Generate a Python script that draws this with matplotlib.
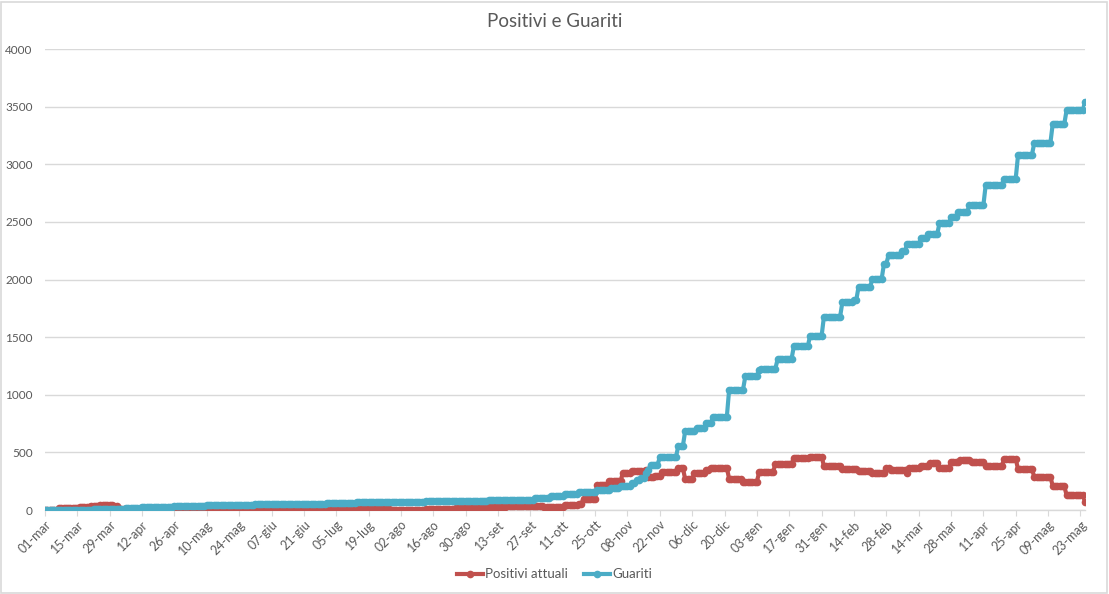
import matplotlib
matplotlib.use("Agg")
import matplotlib.pyplot as plt
import numpy as np
import pandas as pd
from matplotlib.patches import Rectangle

# ---------------- data ----------------
start_date = "2020-03-01"
end_date = "2021-05-25"

# tick labels (every 14 days from 01-mar)
tick_labels = ["01-mar", "15-mar", "29-mar", "12-apr", "26-apr", "10-mag", "24-mag",
               "07-giu", "21-giu", "05-lug", "19-lug", "02-ago", "16-ago", "30-ago",
               "13-set", "27-set", "11-ott", "25-ott", "08-nov", "22-nov", "06-dic",
               "20-dic", "03-gen", "17-gen", "31-gen", "14-feb", "28-feb", "14-mar",
               "28-mar", "11-apr", "25-apr", "09-mag", "23-mag"]

# Guariti: day offset (from start_date) at which the value changes, and new value
guariti_giorno = [0, 7, 14, 21, 28, 35, 42, 49, 56, 63, 70, 77, 84, 91, 98, 105, 112,
                  122, 135, 150, 165, 180, 192, 206, 212, 219, 225, 231, 239, 245, 249,
                  254, 256, 258, 260, 261, 262, 266, 274, 277, 282, 286, 289, 296, 303,
                  309, 310, 317, 324, 331, 337, 345, 350, 352, 358, 363, 365, 371, 373,
                  379, 382, 387, 392, 395, 400, 407, 415, 421, 428, 436, 442, 450]
guariti_valore = [0, 2, 4, 8, 12, 18, 24, 28, 32, 36, 40, 44, 46, 48, 50, 52, 54,
                  65, 68, 72, 76, 80, 84, 88, 107, 125, 139, 154, 174, 188, 212,
                  238, 260, 275, 320, 348, 391, 458, 557, 687, 710, 754, 806, 1043, 1159,
                  1212, 1226, 1310, 1420, 1507, 1675, 1803, 1820, 1936, 2006, 2136, 2212, 2246, 2307,
                  2362, 2391, 2487, 2545, 2588, 2643, 2817, 2875, 3078, 3183, 3348, 3467, 3542]

# Positivi attuali: day offset of change and new value
positivi_giorno = [0, 6, 10, 15, 20, 24, 30, 32, 45, 60, 75, 90, 110, 120, 122, 128,
                   150, 155, 165, 172, 178, 185, 192, 200, 206, 216, 225, 231, 233, 239,
                   244, 250, 254, 260, 261, 264, 267, 274, 277, 281, 286, 288, 296, 302,
                   309, 316, 324, 331, 337, 345, 352, 358, 364, 366, 373, 374, 379, 383,
                   387, 392, 396, 401, 407, 415, 421, 428, 436, 442, 450]
positivi_valore = [0, 15, 20, 28, 35, 45, 38, 10, 8, 3, 0, 3, 5, 8, 0, 5,
                   3, 0, 5, 12, 20, 25, 30, 36, 35, 29, 43, 52, 99, 220,
                   252, 319, 342, 348, 284, 299, 333, 362, 267, 325, 348, 368, 270, 246,
                   328, 400, 455, 464, 383, 354, 342, 319, 362, 348, 319, 362, 386, 406,
                   362, 420, 435, 420, 383, 441, 357, 290, 209, 130, 72]

series_names = ["Positivi attuali", "Guariti"]
series_colors = ["#C0504D", "#4BACC6"]

# ---------------- build daily series ----------------
days = pd.date_range(start_date, end_date, freq="D")
t0 = pd.Timestamp(start_date)


def daily(giorni, valori):
    s = pd.Series(valori, index=[t0 + pd.Timedelta(days=g) for g in giorni])
    return s.reindex(days).ffill()


positivi = daily(positivi_giorno, positivi_valore)
guariti = daily(guariti_giorno, guariti_valore)

# ---------------- figure ----------------
plt.rcParams['font.family'] = ['Lato', 'DejaVu Sans']
fig = plt.figure(figsize=(11.09, 5.94), dpi=100)
ax = fig.add_axes([0.0406, 0.1414, 0.9378, 0.7761])

text_color = "#595959"
grid_color = "#D9D9D9"

for s, name, col in zip([positivi, guariti], series_names, series_colors):
    ax.plot(s.index, s.values, color=col, lw=3.0, marker="o", markersize=5.5,
            markeredgewidth=0, label=name, zorder=3, solid_joinstyle="round")

ax.set_ylim(0, 4000)
ax.set_yticks(np.arange(0, 4001, 500))
ax.set_xlim(days[0], days[-1])
ax.yaxis.grid(True, color=grid_color, lw=1)
ax.set_axisbelow(True)

tick_dates = pd.date_range(start_date, periods=len(tick_labels), freq="14D")
ax.set_xticks(tick_dates)
ax.set_xticklabels(tick_labels, rotation=45, ha="right", rotation_mode="anchor")

for side in ["top", "right", "left"]:
    ax.spines[side].set_visible(False)
ax.spines["bottom"].set_color(grid_color)
ax.spines["bottom"].set_linewidth(1)
ax.tick_params(axis="x", colors=text_color, labelsize=9, length=4, color=grid_color, pad=2)
ax.tick_params(axis="y", colors=text_color, labelsize=8.5, length=0, pad=9)

fig.text(0.5, 0.963, "Positivi e Guariti", ha="center", va="center",
         fontsize=13.5, color=text_color)

leg = fig.legend(loc="center", bbox_to_anchor=(0.5, 0.033), ncol=2, frameon=False,
                 fontsize=9.5, handlelength=2.0, handletextpad=0.15, columnspacing=1.2,
                 labelcolor=text_color)

fig.patches.append(Rectangle((0.001, 0.002), 0.997, 0.995, transform=fig.transFigure,
                             fill=False, edgecolor=grid_color, lw=1.2))

fig.savefig("out.png", dpi=100, facecolor="white")
